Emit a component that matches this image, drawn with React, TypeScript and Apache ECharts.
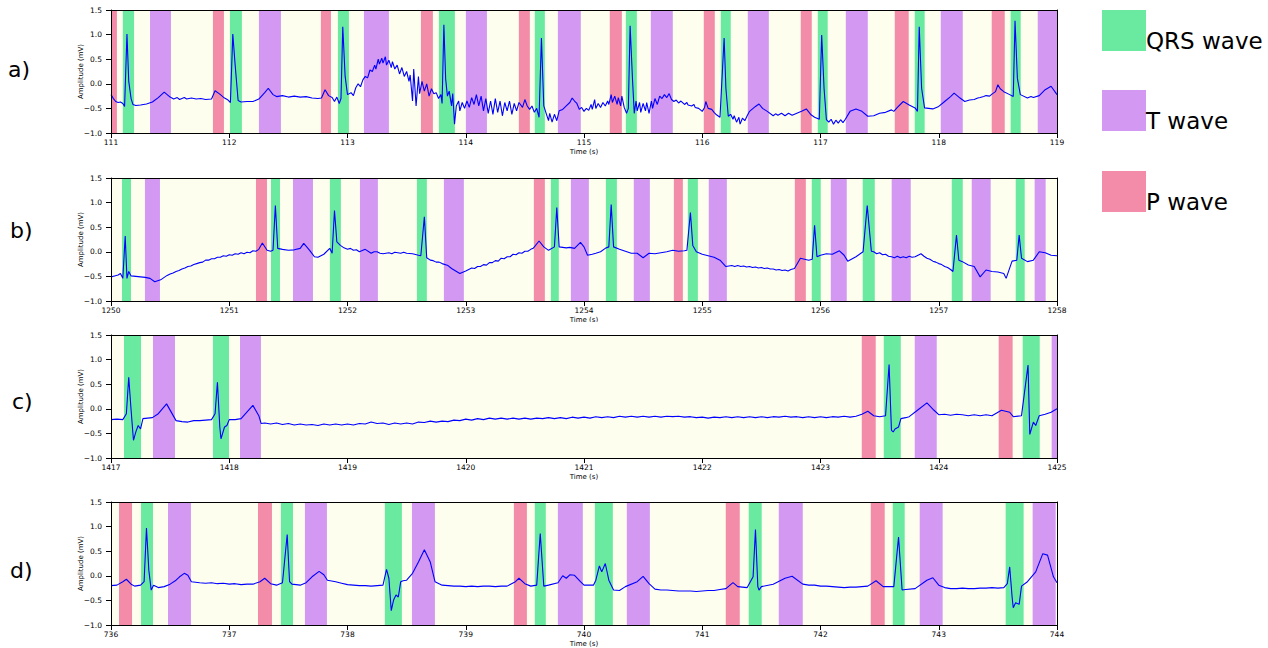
import React, { useEffect, useRef } from "react";
import * as echarts from "echarts";

type Pt = [number, number];
type Band = [number, number];

const PANEL_LABELS = ["a)", "b)", "c)", "d)"];
const X_START = [111, 1250, 1417, 736];
const LEGEND_LABELS = ["QRS wave", "T wave", "P wave"];

// ---- Panel a) signal [time s, amplitude mV]
const ecgA: Pt[] = [
  [111.0, -0.22], [111.02, -0.3], [111.04, -0.36], [111.06, -0.38], [111.08, -0.37], [111.1, -0.4], [111.115, -0.46],
  [111.135, 1.01], [111.15, 0.05], [111.17, -0.3], [111.185, -0.42], [111.21, -0.44], [111.25, -0.43], [111.3, -0.41],
  [111.35, -0.37], [111.4, -0.28], [111.45, -0.17], [111.5, -0.27], [111.53, -0.31], [111.56, -0.28], [111.58, -0.32],
  [111.62, -0.28], [111.64, -0.31], [111.68, -0.29], [111.72, -0.31], [111.76, -0.3], [111.8, -0.32], [111.85, -0.31],
  [111.88, -0.14], [111.92, -0.21], [111.96, -0.29], [111.99, -0.33], [112.01, -0.38], [112.03, 1.01], [112.05, 0.38],
  [112.075, -0.34], [112.1, -0.37], [112.15, -0.36], [112.2, -0.36], [112.25, -0.31], [112.3, -0.18], [112.33, -0.09],
  [112.37, -0.22], [112.4, -0.26], [112.45, -0.24], [112.5, -0.27], [112.55, -0.25], [112.6, -0.27], [112.65, -0.26],
  [112.7, -0.29], [112.75, -0.3], [112.78, -0.29], [112.81, -0.12], [112.84, -0.24], [112.87, -0.28], [112.89, -0.36],
  [112.91, -0.27], [112.93, -0.4], [112.945, -0.3], [112.96, 1.16], [112.98, 0.15], [113.0, -0.22], [113.03, -0.18],
  [113.05, -0.24], [113.07, -0.08], [113.09, 0.0], [113.11, -0.06], [113.13, 0.08], [113.15, 0.15], [113.17, 0.12],
  [113.19, 0.28], [113.21, 0.25], [113.23, 0.38], [113.24, 0.3], [113.26, 0.5], [113.27, 0.4], [113.29, 0.52],
  [113.3, 0.42], [113.32, 0.55], [113.33, 0.38], [113.35, 0.48], [113.37, 0.33], [113.38, 0.45], [113.4, 0.3],
  [113.42, 0.38], [113.44, 0.2], [113.46, 0.33], [113.48, 0.15], [113.5, 0.25], [113.52, 0.05], [113.53, 0.18],
  [113.55, -0.35], [113.56, 0.3], [113.58, -0.45], [113.6, 0.15], [113.61, -0.2], [113.63, 0.05], [113.65, -0.15],
  [113.67, 0.0], [113.69, -0.25], [113.71, -0.1], [113.73, -0.2], [113.75, -0.18], [113.77, -0.3], [113.79, -0.22],
  [113.8, -0.4], [113.815, 1.2], [113.83, 0.1], [113.845, -0.25], [113.86, -0.15], [113.88, -0.45], [113.89, -0.2],
  [113.905, -0.82], [113.92, -0.45], [113.94, -0.35], [113.95, -0.55], [113.97, -0.38], [113.99, -0.5], [114.01, -0.35],
  [114.03, -0.48], [114.05, -0.28], [114.07, -0.42], [114.09, -0.22], [114.11, -0.45], [114.13, -0.25], [114.15, -0.55],
  [114.17, -0.3], [114.19, -0.6], [114.21, -0.35], [114.23, -0.62], [114.25, -0.3], [114.27, -0.58], [114.29, -0.35],
  [114.31, -0.65], [114.33, -0.38], [114.35, -0.55], [114.37, -0.35], [114.39, -0.62], [114.41, -0.4], [114.43, -0.55],
  [114.45, -0.38], [114.48, -0.48], [114.5, -0.32], [114.52, -0.45], [114.54, -0.52], [114.56, -0.45], [114.58, -0.58],
  [114.6, -0.5], [114.62, -0.68], [114.64, 0.93], [114.66, -0.45], [114.68, -0.6], [114.7, -0.75], [114.71, -0.6],
  [114.73, -0.78], [114.75, -0.62], [114.77, -0.75], [114.79, -0.55], [114.82, -0.52], [114.85, -0.45], [114.88, -0.38],
  [114.9, -0.29], [114.92, -0.35], [114.94, -0.4], [114.96, -0.52], [114.98, -0.48], [115.0, -0.56], [115.02, -0.5],
  [115.04, -0.54], [115.06, -0.42], [115.07, -0.52], [115.09, -0.32], [115.1, -0.5], [115.12, -0.4], [115.14, -0.48],
  [115.16, -0.38], [115.18, -0.45], [115.2, -0.35], [115.21, -0.42], [115.23, -0.22], [115.24, -0.38], [115.26, -0.25],
  [115.28, -0.42], [115.29, -0.28], [115.31, -0.45], [115.32, -0.25], [115.34, -0.48], [115.36, -0.6], [115.375, -0.5],
  [115.39, 1.18], [115.41, 0.1], [115.425, -0.6], [115.44, -0.35], [115.45, -0.55], [115.47, -0.38], [115.48, -0.58],
  [115.5, -0.4], [115.52, -0.55], [115.53, -0.38], [115.55, -0.6], [115.57, -0.35], [115.58, -0.5], [115.6, -0.3],
  [115.62, -0.42], [115.64, -0.25], [115.66, -0.3], [115.68, -0.22], [115.7, -0.28], [115.72, -0.2], [115.74, -0.32],
  [115.76, -0.36], [115.78, -0.33], [115.8, -0.39], [115.82, -0.35], [115.85, -0.42], [115.87, -0.38], [115.88, -0.43],
  [115.91, -0.45], [115.93, -0.42], [115.94, -0.48], [115.97, -0.5], [116.0, -0.56], [116.02, -0.48], [116.03, -0.36],
  [116.05, -0.5], [116.08, -0.52], [116.1, -0.58], [116.12, -0.63], [116.15, -0.68], [116.185, 0.93], [116.2, -0.09],
  [116.22, -0.66], [116.24, -0.62], [116.26, -0.72], [116.27, -0.65], [116.29, -0.78], [116.31, -0.68], [116.32, -0.82],
  [116.34, -0.7], [116.36, -0.75], [116.38, -0.65], [116.4, -0.56], [116.42, -0.52], [116.45, -0.46], [116.48, -0.41],
  [116.51, -0.5], [116.55, -0.56], [116.6, -0.65], [116.62, -0.61], [116.64, -0.64], [116.67, -0.6], [116.7, -0.65],
  [116.73, -0.6], [116.76, -0.64], [116.8, -0.6], [116.84, -0.56], [116.88, -0.51], [116.92, -0.63], [116.95, -0.68],
  [116.99, -0.72], [117.01, 0.99], [117.03, -0.09], [117.05, -0.73], [117.07, -0.78], [117.09, -0.72], [117.11, -0.82],
  [117.13, -0.74], [117.15, -0.8], [117.17, -0.73], [117.19, -0.79], [117.21, -0.72], [117.25, -0.56], [117.3, -0.51],
  [117.35, -0.56], [117.4, -0.66], [117.45, -0.65], [117.5, -0.6], [117.55, -0.58], [117.6, -0.53], [117.62, -0.56],
  [117.65, -0.48], [117.7, -0.36], [117.75, -0.43], [117.8, -0.49], [117.82, -0.56], [117.835, 1.16], [117.855, -0.09],
  [117.88, -0.49], [117.95, -0.51], [118.0, -0.46], [118.05, -0.36], [118.1, -0.26], [118.13, -0.19], [118.18, -0.29],
  [118.22, -0.36], [118.26, -0.33], [118.3, -0.32], [118.33, -0.29], [118.35, -0.28], [118.38, -0.26], [118.4, -0.24],
  [118.43, -0.25], [118.45, -0.21], [118.48, -0.16], [118.5, -0.02], [118.52, -0.1], [118.55, -0.16], [118.6, -0.22],
  [118.63, -0.26], [118.645, 1.28], [118.665, 0.11], [118.69, -0.22], [118.75, -0.29], [118.78, -0.26], [118.8, -0.28],
  [118.85, -0.24], [118.9, -0.12], [118.95, -0.05], [119.0, -0.22],
];
const qrsA: Band[] = [[111.1, 111.195], [112.006, 112.107], [112.919, 113.012], [113.773, 113.908], [114.584, 114.669], [115.354, 115.447], [116.157, 116.241], [116.977, 117.061], [117.797, 117.881], [118.608, 118.693]];
const tA: Band[] = [[111.33, 111.507], [112.251, 112.437], [113.139, 113.35], [114.001, 114.179], [114.779, 114.973], [115.565, 115.751], [116.385, 116.563], [117.214, 117.4], [118.017, 118.203], [118.837, 119.0]];
const pA: Band[] = [[111.0, 111.05], [111.862, 111.955], [112.775, 112.86], [113.621, 113.722], [114.449, 114.542], [115.218, 115.32], [116.013, 116.106], [116.833, 116.926], [117.628, 117.746], [118.448, 118.558]];

// ---- Panel b)
const ecgB: Pt[] = [
  [1250.0, -0.51], [1250.03, -0.49], [1250.06, -0.47], [1250.08, -0.44], [1250.1, -0.54], [1250.12, 0.32], [1250.135, -0.54],
  [1250.15, -0.4], [1250.17, -0.49], [1250.21, -0.5], [1250.25, -0.51], [1250.29, -0.52], [1250.33, -0.54], [1250.37, -0.61],
  [1250.42, -0.57], [1250.45, -0.52], [1250.475, -0.48], [1250.5, -0.45], [1250.525, -0.43], [1250.55, -0.4], [1250.575, -0.38],
  [1250.6, -0.35], [1250.625, -0.33], [1250.65, -0.3], [1250.675, -0.29], [1250.7, -0.26], [1250.725, -0.24], [1250.75, -0.22],
  [1250.775, -0.21], [1250.8, -0.17], [1250.825, -0.17], [1250.85, -0.14], [1250.875, -0.14], [1250.9, -0.11], [1250.925, -0.11],
  [1250.95, -0.08], [1250.975, -0.09], [1251.0, -0.06], [1251.025, -0.07], [1251.05, -0.04], [1251.075, -0.05], [1251.1, -0.02],
  [1251.125, -0.04], [1251.15, -0.01], [1251.175, -0.02], [1251.2, 0.02], [1251.225, 0.01], [1251.25, 0.05], [1251.28, 0.18],
  [1251.32, 0.03], [1251.35, 0.01], [1251.37, 0.03], [1251.39, 0.94], [1251.41, 0.07], [1251.45, 0.05], [1251.5, 0.03],
  [1251.55, 0.04], [1251.6, 0.07], [1251.63, 0.17], [1251.68, 0.03], [1251.72, -0.1], [1251.75, -0.11], [1251.8, -0.05],
  [1251.85, 0.07], [1251.87, -0.03], [1251.89, 0.84], [1251.91, 0.2], [1251.94, 0.13], [1251.97, 0.08], [1252.0, 0.05],
  [1252.025, 0.07], [1252.05, 0.03], [1252.075, 0.04], [1252.1, 0.0], [1252.15, 0.05], [1252.2, -0.03], [1252.225, 0.0],
  [1252.25, 0.0], [1252.275, -0.03], [1252.3, -0.04], [1252.35, -0.02], [1252.375, -0.04], [1252.4, -0.01], [1252.45, -0.03],
  [1252.475, -0.01], [1252.5, -0.03], [1252.55, -0.04], [1252.6, -0.07], [1252.62, -0.08], [1252.65, 0.71], [1252.67, -0.12],
  [1252.7, -0.17], [1252.725, -0.18], [1252.75, -0.21], [1252.775, -0.21], [1252.8, -0.24], [1252.85, -0.28], [1252.88, -0.34],
  [1252.95, -0.44], [1253.0, -0.39], [1253.05, -0.33], [1253.075, -0.34], [1253.1, -0.3], [1253.125, -0.3], [1253.15, -0.26],
  [1253.175, -0.27], [1253.2, -0.22], [1253.225, -0.22], [1253.25, -0.18], [1253.275, -0.19], [1253.3, -0.13], [1253.325, -0.14],
  [1253.35, -0.1], [1253.375, -0.1], [1253.4, -0.05], [1253.425, -0.06], [1253.45, -0.02], [1253.475, -0.03], [1253.5, 0.01],
  [1253.525, 0.01], [1253.55, 0.05], [1253.57, 0.07], [1253.62, 0.22], [1253.66, 0.1], [1253.7, 0.03], [1253.75, 0.1],
  [1253.77, 0.9], [1253.79, 0.1], [1253.85, 0.08], [1253.88, 0.09], [1253.92, 0.07], [1253.97, 0.19], [1254.0, 0.1],
  [1254.03, -0.07], [1254.07, -0.05], [1254.1, -0.03], [1254.14, 0.0], [1254.18, 0.07], [1254.21, 0.1], [1254.23, 0.96],
  [1254.25, 0.1], [1254.3, 0.05], [1254.35, 0.01], [1254.4, -0.03], [1254.45, -0.03], [1254.5, -0.12], [1254.55, -0.03],
  [1254.6, -0.04], [1254.65, -0.02], [1254.7, 0.0], [1254.75, 0.03], [1254.8, 0.01], [1254.85, 0.02], [1254.87, 0.03],
  [1254.9, 0.8], [1254.92, 0.13], [1254.95, 0.0], [1255.0, -0.05], [1255.05, -0.08], [1255.1, -0.11], [1255.15, -0.17],
  [1255.2, -0.3], [1255.25, -0.28], [1255.275, -0.3], [1255.3, -0.28], [1255.325, -0.3], [1255.35, -0.29], [1255.375, -0.31],
  [1255.4, -0.3], [1255.425, -0.32], [1255.45, -0.31], [1255.475, -0.33], [1255.5, -0.32], [1255.525, -0.34], [1255.55, -0.33],
  [1255.575, -0.35], [1255.6, -0.35], [1255.625, -0.37], [1255.65, -0.36], [1255.675, -0.38], [1255.7, -0.37], [1255.725, -0.39],
  [1255.75, -0.36], [1255.78, -0.34], [1255.83, -0.13], [1255.9, -0.17], [1255.93, -0.15], [1255.95, 0.54], [1255.97, -0.1],
  [1256.0, -0.07], [1256.05, -0.04], [1256.1, -0.05], [1256.16, 0.02], [1256.2, -0.07], [1256.23, -0.19], [1256.3, -0.1],
  [1256.36, 0.0], [1256.395, 0.94], [1256.43, 0.01], [1256.45, 0.0], [1256.475, -0.04], [1256.5, -0.02], [1256.525, -0.06],
  [1256.55, -0.05], [1256.575, -0.09], [1256.6, -0.1], [1256.625, -0.12], [1256.65, -0.09], [1256.675, -0.12], [1256.7, -0.1],
  [1256.725, -0.12], [1256.75, -0.09], [1256.775, -0.11], [1256.8, -0.1], [1256.825, -0.07], [1256.85, -0.04], [1256.875, -0.09],
  [1256.9, -0.13], [1256.925, -0.15], [1256.95, -0.19], [1256.975, -0.21], [1257.0, -0.24], [1257.025, -0.26], [1257.05, -0.3],
  [1257.075, -0.32], [1257.1, -0.36], [1257.12, -0.4], [1257.15, 0.34], [1257.17, -0.17], [1257.2, -0.2], [1257.25, -0.27],
  [1257.3, -0.3], [1257.35, -0.51], [1257.4, -0.37], [1257.45, -0.4], [1257.5, -0.41], [1257.55, -0.44], [1257.57, -0.54],
  [1257.62, -0.19], [1257.66, -0.17], [1257.68, 0.34], [1257.7, -0.13], [1257.75, -0.2], [1257.8, -0.17], [1257.85, 0.0],
  [1257.9, -0.02], [1257.95, -0.07], [1258.0, -0.08],
];
const qrsB: Band[] = [[1250.093, 1250.169], [1251.353, 1251.429], [1251.851, 1251.944], [1252.587, 1252.671], [1253.72, 1253.787], [1254.185, 1254.278], [1254.878, 1254.963], [1255.926, 1256.002], [1256.357, 1256.459], [1257.11, 1257.203], [1257.651, 1257.727]];
const tB: Band[] = [[1250.287, 1250.414], [1251.539, 1251.708], [1252.105, 1252.257], [1252.815, 1252.984], [1253.889, 1254.041], [1254.421, 1254.557], [1255.055, 1255.208], [1256.087, 1256.222], [1256.602, 1256.763], [1257.279, 1257.439], [1257.811, 1257.904]];
const pB: Band[] = [[1251.226, 1251.319], [1253.576, 1253.669], [1254.76, 1254.836], [1255.783, 1255.876]];

// ---- Panel c)
const ecgC: Pt[] = [
  [1417.0, -0.22], [1417.05, -0.21], [1417.1, -0.22], [1417.13, -0.1], [1417.15, 0.64], [1417.17, -0.03], [1417.19, -0.64],
  [1417.21, -0.47], [1417.23, -0.34], [1417.25, -0.41], [1417.27, -0.2], [1417.35, -0.18], [1417.4, -0.1], [1417.47, 0.1],
  [1417.55, -0.24], [1417.6, -0.26], [1417.65, -0.27], [1417.7, -0.24], [1417.75, -0.24], [1417.8, -0.23], [1417.85, -0.22],
  [1417.88, -0.1], [1417.9, 0.54], [1417.92, -0.37], [1417.93, -0.61], [1417.96, -0.37], [1417.98, -0.34], [1418.0, -0.22],
  [1418.05, -0.22], [1418.1, -0.2], [1418.2, 0.07], [1418.25, -0.14], [1418.27, -0.3], [1418.3, -0.29], [1418.35, -0.31],
  [1418.4, -0.29], [1418.45, -0.32], [1418.5, -0.3], [1418.55, -0.33], [1418.6, -0.31], [1418.65, -0.33], [1418.7, -0.32],
  [1418.75, -0.34], [1418.8, -0.31], [1418.85, -0.33], [1418.9, -0.31], [1418.95, -0.33], [1419.0, -0.31], [1419.05, -0.33],
  [1419.1, -0.3], [1419.15, -0.31], [1419.2, -0.27], [1419.25, -0.3], [1419.3, -0.29], [1419.35, -0.32], [1419.4, -0.29],
  [1419.45, -0.31], [1419.5, -0.29], [1419.55, -0.31], [1419.6, -0.27], [1419.65, -0.28], [1419.7, -0.25], [1419.75, -0.27],
  [1419.8, -0.25], [1419.85, -0.26], [1419.9, -0.23], [1419.95, -0.24], [1420.0, -0.21], [1420.05, -0.23], [1420.1, -0.2],
  [1420.15, -0.22], [1420.2, -0.19], [1420.25, -0.21], [1420.3, -0.19], [1420.35, -0.21], [1420.4, -0.19], [1420.45, -0.21],
  [1420.5, -0.19], [1420.55, -0.21], [1420.6, -0.19], [1420.65, -0.2], [1420.7, -0.18], [1420.75, -0.2], [1420.8, -0.18],
  [1420.85, -0.2], [1420.9, -0.17], [1420.95, -0.19], [1421.0, -0.17], [1421.05, -0.19], [1421.1, -0.16], [1421.15, -0.18],
  [1421.2, -0.16], [1421.25, -0.18], [1421.3, -0.15], [1421.35, -0.17], [1421.4, -0.15], [1421.45, -0.17], [1421.5, -0.15],
  [1421.55, -0.17], [1421.6, -0.15], [1421.65, -0.17], [1421.7, -0.15], [1421.75, -0.16], [1421.8, -0.15], [1421.85, -0.17],
  [1421.9, -0.16], [1421.95, -0.18], [1422.0, -0.17], [1422.05, -0.19], [1422.1, -0.17], [1422.15, -0.18], [1422.2, -0.16],
  [1422.25, -0.18], [1422.3, -0.16], [1422.35, -0.18], [1422.4, -0.16], [1422.45, -0.18], [1422.5, -0.16], [1422.55, -0.18],
  [1422.6, -0.16], [1422.65, -0.17], [1422.7, -0.15], [1422.75, -0.17], [1422.8, -0.16], [1422.85, -0.18], [1422.9, -0.16],
  [1422.95, -0.18], [1423.0, -0.16], [1423.05, -0.18], [1423.1, -0.16], [1423.15, -0.17], [1423.2, -0.15], [1423.25, -0.17],
  [1423.3, -0.15], [1423.35, -0.11], [1423.4, -0.05], [1423.45, -0.14], [1423.5, -0.16], [1423.55, -0.14], [1423.58, 0.9],
  [1423.6, -0.44], [1423.615, -0.47], [1423.63, -0.41], [1423.66, -0.37], [1423.68, -0.2], [1423.72, -0.18], [1423.75, -0.16],
  [1423.82, -0.03], [1423.9, 0.12], [1423.96, -0.03], [1424.0, -0.12], [1424.05, -0.11], [1424.1, -0.13], [1424.15, -0.11],
  [1424.2, -0.12], [1424.25, -0.14], [1424.3, -0.12], [1424.35, -0.14], [1424.4, -0.12], [1424.45, -0.14], [1424.53, -0.03],
  [1424.6, -0.07], [1424.63, -0.16], [1424.7, -0.14], [1424.755, 0.89], [1424.77, -0.52], [1424.8, -0.27], [1424.82, -0.34],
  [1424.85, -0.14], [1424.9, -0.11], [1424.95, -0.07], [1425.0, 0.0],
];
const qrsC: Band[] = [[1417.11, 1417.254], [1417.862, 1417.998], [1423.535, 1423.679], [1424.71, 1424.854]];
const tC: Band[] = [[1417.355, 1417.541], [1418.091, 1418.268], [1423.797, 1423.983], [1424.955, 1425.0]];
const pC: Band[] = [[1423.349, 1423.467], [1424.507, 1424.625]];

// ---- Panel d)
const ecgD: Pt[] = [
  [736.0, -0.2], [736.05, -0.19], [736.1, -0.12], [736.13, -0.07], [736.17, -0.17], [736.2, -0.21], [736.25, -0.19],
  [736.28, -0.12], [736.3, 0.97], [736.32, 0.11], [736.34, -0.29], [736.36, -0.19], [736.4, -0.24], [736.45, -0.22],
  [736.5, -0.17], [736.55, -0.09], [736.58, -0.02], [736.62, 0.05], [736.65, 0.01], [736.68, -0.12], [736.75, -0.14],
  [736.8, -0.15], [736.85, -0.14], [736.9, -0.16], [736.95, -0.15], [737.0, -0.17], [737.05, -0.16], [737.1, -0.18],
  [737.15, -0.17], [737.2, -0.17], [737.26, -0.12], [737.3, -0.05], [737.35, -0.16], [737.4, -0.19], [737.45, -0.14],
  [737.49, 0.84], [737.51, -0.12], [737.53, -0.17], [737.6, -0.19], [737.65, -0.14], [737.7, -0.02], [737.76, 0.09],
  [737.8, 0.02], [737.83, -0.09], [737.9, -0.12], [737.95, -0.15], [738.0, -0.18], [738.05, -0.19], [738.1, -0.2],
  [738.15, -0.2], [738.2, -0.21], [738.25, -0.2], [738.3, -0.19], [738.33, 0.13], [738.35, -0.05], [738.37, -0.71],
  [738.39, -0.49], [738.41, -0.39], [738.43, -0.43], [738.45, -0.12], [738.47, -0.1], [738.5, -0.09], [738.55, 0.05],
  [738.6, 0.28], [738.65, 0.53], [738.7, 0.28], [738.74, -0.12], [738.8, -0.19], [738.85, -0.2], [738.9, -0.21],
  [738.95, -0.21], [739.0, -0.22], [739.05, -0.21], [739.1, -0.22], [739.15, -0.21], [739.2, -0.21], [739.25, -0.22],
  [739.3, -0.21], [739.35, -0.21], [739.42, -0.12], [739.45, -0.05], [739.5, -0.16], [739.55, -0.21], [739.6, -0.19],
  [739.63, 0.86], [739.66, -0.21], [739.7, -0.19], [739.78, -0.14], [739.82, 0.0], [739.85, -0.05], [739.88, 0.02],
  [739.92, 0.01], [739.97, -0.12], [740.0, -0.19], [740.08, -0.19], [740.1, -0.09], [740.13, 0.2], [740.15, 0.08],
  [740.18, 0.25], [740.21, -0.09], [740.25, -0.29], [740.3, -0.3], [740.35, -0.22], [740.45, -0.12], [740.5, -0.01],
  [740.55, -0.16], [740.6, -0.27], [740.65, -0.29], [740.7, -0.29], [740.75, -0.3], [740.8, -0.31], [740.85, -0.31],
  [740.9, -0.31], [740.95, -0.32], [741.0, -0.31], [741.05, -0.3], [741.1, -0.3], [741.15, -0.28], [741.2, -0.26],
  [741.26, -0.14], [741.3, -0.22], [741.38, -0.24], [741.43, -0.02], [741.45, 0.94], [741.47, -0.22], [741.48, -0.29],
  [741.5, -0.22], [741.6, -0.17], [741.7, -0.05], [741.76, -0.01], [741.85, -0.17], [741.9, -0.19], [741.95, -0.19],
  [742.0, -0.21], [742.05, -0.21], [742.1, -0.22], [742.15, -0.23], [742.2, -0.24], [742.25, -0.23], [742.3, -0.23],
  [742.35, -0.22], [742.4, -0.21], [742.47, -0.1], [742.53, -0.22], [742.62, -0.22], [742.66, 0.79], [742.69, -0.29],
  [742.72, -0.28], [742.8, -0.26], [742.9, -0.09], [742.95, -0.04], [743.0, -0.19], [743.05, -0.24], [743.1, -0.26],
  [743.15, -0.26], [743.2, -0.25], [743.25, -0.26], [743.3, -0.26], [743.35, -0.25], [743.4, -0.25], [743.45, -0.24],
  [743.5, -0.25], [743.55, -0.24], [743.58, -0.16], [743.6, 0.18], [743.62, -0.42], [743.63, -0.65], [743.65, -0.55],
  [743.68, -0.58], [743.7, -0.21], [743.75, -0.12], [743.82, 0.08], [743.88, 0.45], [743.92, 0.42], [743.97, -0.02],
  [744.0, -0.14],
];
const qrsD: Band[] = [[736.254, 736.355], [737.437, 737.539], [738.316, 738.46], [739.584, 739.677], [740.092, 740.244], [741.393, 741.503], [742.611, 742.712], [743.566, 743.718]];
const tD: Band[] = [[736.482, 736.676], [737.64, 737.826], [738.545, 738.739], [739.779, 739.99], [740.362, 740.557], [741.647, 741.85], [742.839, 743.033], [743.794, 743.989]];
const pD: Band[] = [[736.068, 736.178], [737.243, 737.361], [739.407, 739.517], [741.199, 741.317], [742.425, 742.543]];

const COLOR_QRS = "#6aeaa0";
const COLOR_T = "#d298f2";
const COLOR_P = "#f28ca8";
const BG = "#fefeee";
const FONT = "DejaVu Sans";

const PANELS = [
  { sig: ecgA, qrs: qrsA, t: tA, p: pA },
  { sig: ecgB, qrs: qrsB, t: tB, p: pB },
  { sig: ecgC, qrs: qrsC, t: tC, p: pC },
  { sig: ecgD, qrs: qrsD, t: tD, p: pD },
];
const GRID_TOPS = [10, 178, 335, 502];
const LABEL_POS = [[8, 71], [10, 232], [12, 403], [10, 572]];

const fmtY = (v: number) => (v < 0 ? "\u2212" : "") + Math.abs(v).toFixed(1);
const fmtX = (v: number) => String(Math.round(v));

function buildOption() {
  const grid: any[] = [];
  const xAxis: any[] = [];
  const yAxis: any[] = [];
  const series: any[] = [];
  PANELS.forEach((pn, i) => {
    const x0 = X_START[i];
    grid.push({
      left: 111, width: 946, top: GRID_TOPS[i], height: 123,
      show: true, backgroundColor: BG, borderWidth: 0,
    });
    xAxis.push({
      type: "value", gridIndex: i, min: x0, max: x0 + 8, interval: 1, position: "bottom", z: 10,
      axisLine: { show: true, onZero: false, lineStyle: { color: "#000", width: 1 } },
      axisTick: { show: true, length: 5, lineStyle: { color: "#000" } },
      axisLabel: { fontSize: 7.5, color: "#000", margin: 5, fontFamily: FONT, formatter: fmtX },
      splitLine: { show: false },
      name: "Time (s)", nameLocation: "middle", nameGap: 15, nameMoveOverlap: false,
      nameTextStyle: { fontSize: 7, color: "#000", fontFamily: FONT },
    });
    xAxis.push({
      type: "value", gridIndex: i, min: x0, max: x0 + 8, position: "top", z: 10,
      axisLine: { show: true, onZero: false, lineStyle: { color: "#000", width: 1 } },
      axisTick: { show: false }, axisLabel: { show: false }, splitLine: { show: false },
    });
    yAxis.push({
      type: "value", gridIndex: i, min: -1, max: 1.5, interval: 0.5, position: "left", z: 10,
      axisLine: { show: true, onZero: false, lineStyle: { color: "#000", width: 1 } },
      axisTick: { show: true, length: 5, lineStyle: { color: "#000" } },
      axisLabel: { fontSize: 7.5, color: "#000", margin: 9, fontFamily: FONT, formatter: fmtY },
      splitLine: { show: false },
      name: "Amplitude (mV)", nameLocation: "middle", nameGap: 27, nameMoveOverlap: false,
      nameTextStyle: { fontSize: 7, color: "#000", fontFamily: FONT },
    });
    yAxis.push({
      type: "value", gridIndex: i, min: -1, max: 1.5, position: "right", z: 10,
      axisLine: { show: true, onZero: false, lineStyle: { color: "#000", width: 1 } },
      axisTick: { show: false }, axisLabel: { show: false }, splitLine: { show: false },
    });
    const bandSeries = (bands: Band[], color: string) => ({
      type: "line", xAxisIndex: 2 * i, yAxisIndex: 2 * i, data: [], silent: true, z: 1,
      markArea: {
        silent: true,
        itemStyle: { color, opacity: 1 },
        data: bands.map(([s, e]) => [{ xAxis: s }, { xAxis: e }]),
      },
    });
    series.push(bandSeries(pn.qrs, COLOR_QRS));
    series.push(bandSeries(pn.t, COLOR_T));
    series.push(bandSeries(pn.p, COLOR_P));
    series.push({
      type: "line", xAxisIndex: 2 * i, yAxisIndex: 2 * i, data: pn.sig, z: 5,
      showSymbol: false, symbol: "none", silent: true,
      lineStyle: { color: "#0000ff", width: 1.1 },
    });
  });

  const graphic: any[] = [];
  PANEL_LABELS.forEach((lab, i) => {
    graphic.push({
      type: "text", left: LABEL_POS[i][0], top: LABEL_POS[i][1] - 13,
      style: { text: lab, fontSize: 22, fontFamily: FONT, fill: "#000" },
    });
  });
  const legendColors = [COLOR_QRS, COLOR_T, COLOR_P];
  const legendTops = [10, 90, 171];
  LEGEND_LABELS.forEach((lab, i) => {
    graphic.push({
      type: "rect", shape: { x: 1102, y: legendTops[i], width: 44, height: 41 },
      style: { fill: legendColors[i] },
    });
    graphic.push({
      type: "text", x: 1146, y: legendTops[i] + 31,
      style: { text: lab, fontSize: 23, fontFamily: FONT, fill: "#000", verticalAlign: "middle", align: "left" },
    });
  });
  // white strip of the lower panel's figure area that clips panel b's axis title
  graphic.push({
    type: "rect", z: 100, shape: { x: 500, y: 322, width: 200, height: 12 },
    style: { fill: "#fff" },
  });

  return { animation: false, backgroundColor: "#fff", grid, xAxis, yAxis, series, graphic };
}

export default function App() {
  const ref = useRef<HTMLDivElement>(null);
  useEffect(() => {
    if (!ref.current) return;
    const chart = echarts.init(ref.current, undefined, { renderer: "svg" });
    chart.setOption(buildOption() as any);
    return () => chart.dispose();
  }, []);
  return (
    <div
      ref={ref}
      style={{ position: "fixed", left: 0, top: 0, width: 1268, height: 648, background: "#fff" }}
    />
  );
}
